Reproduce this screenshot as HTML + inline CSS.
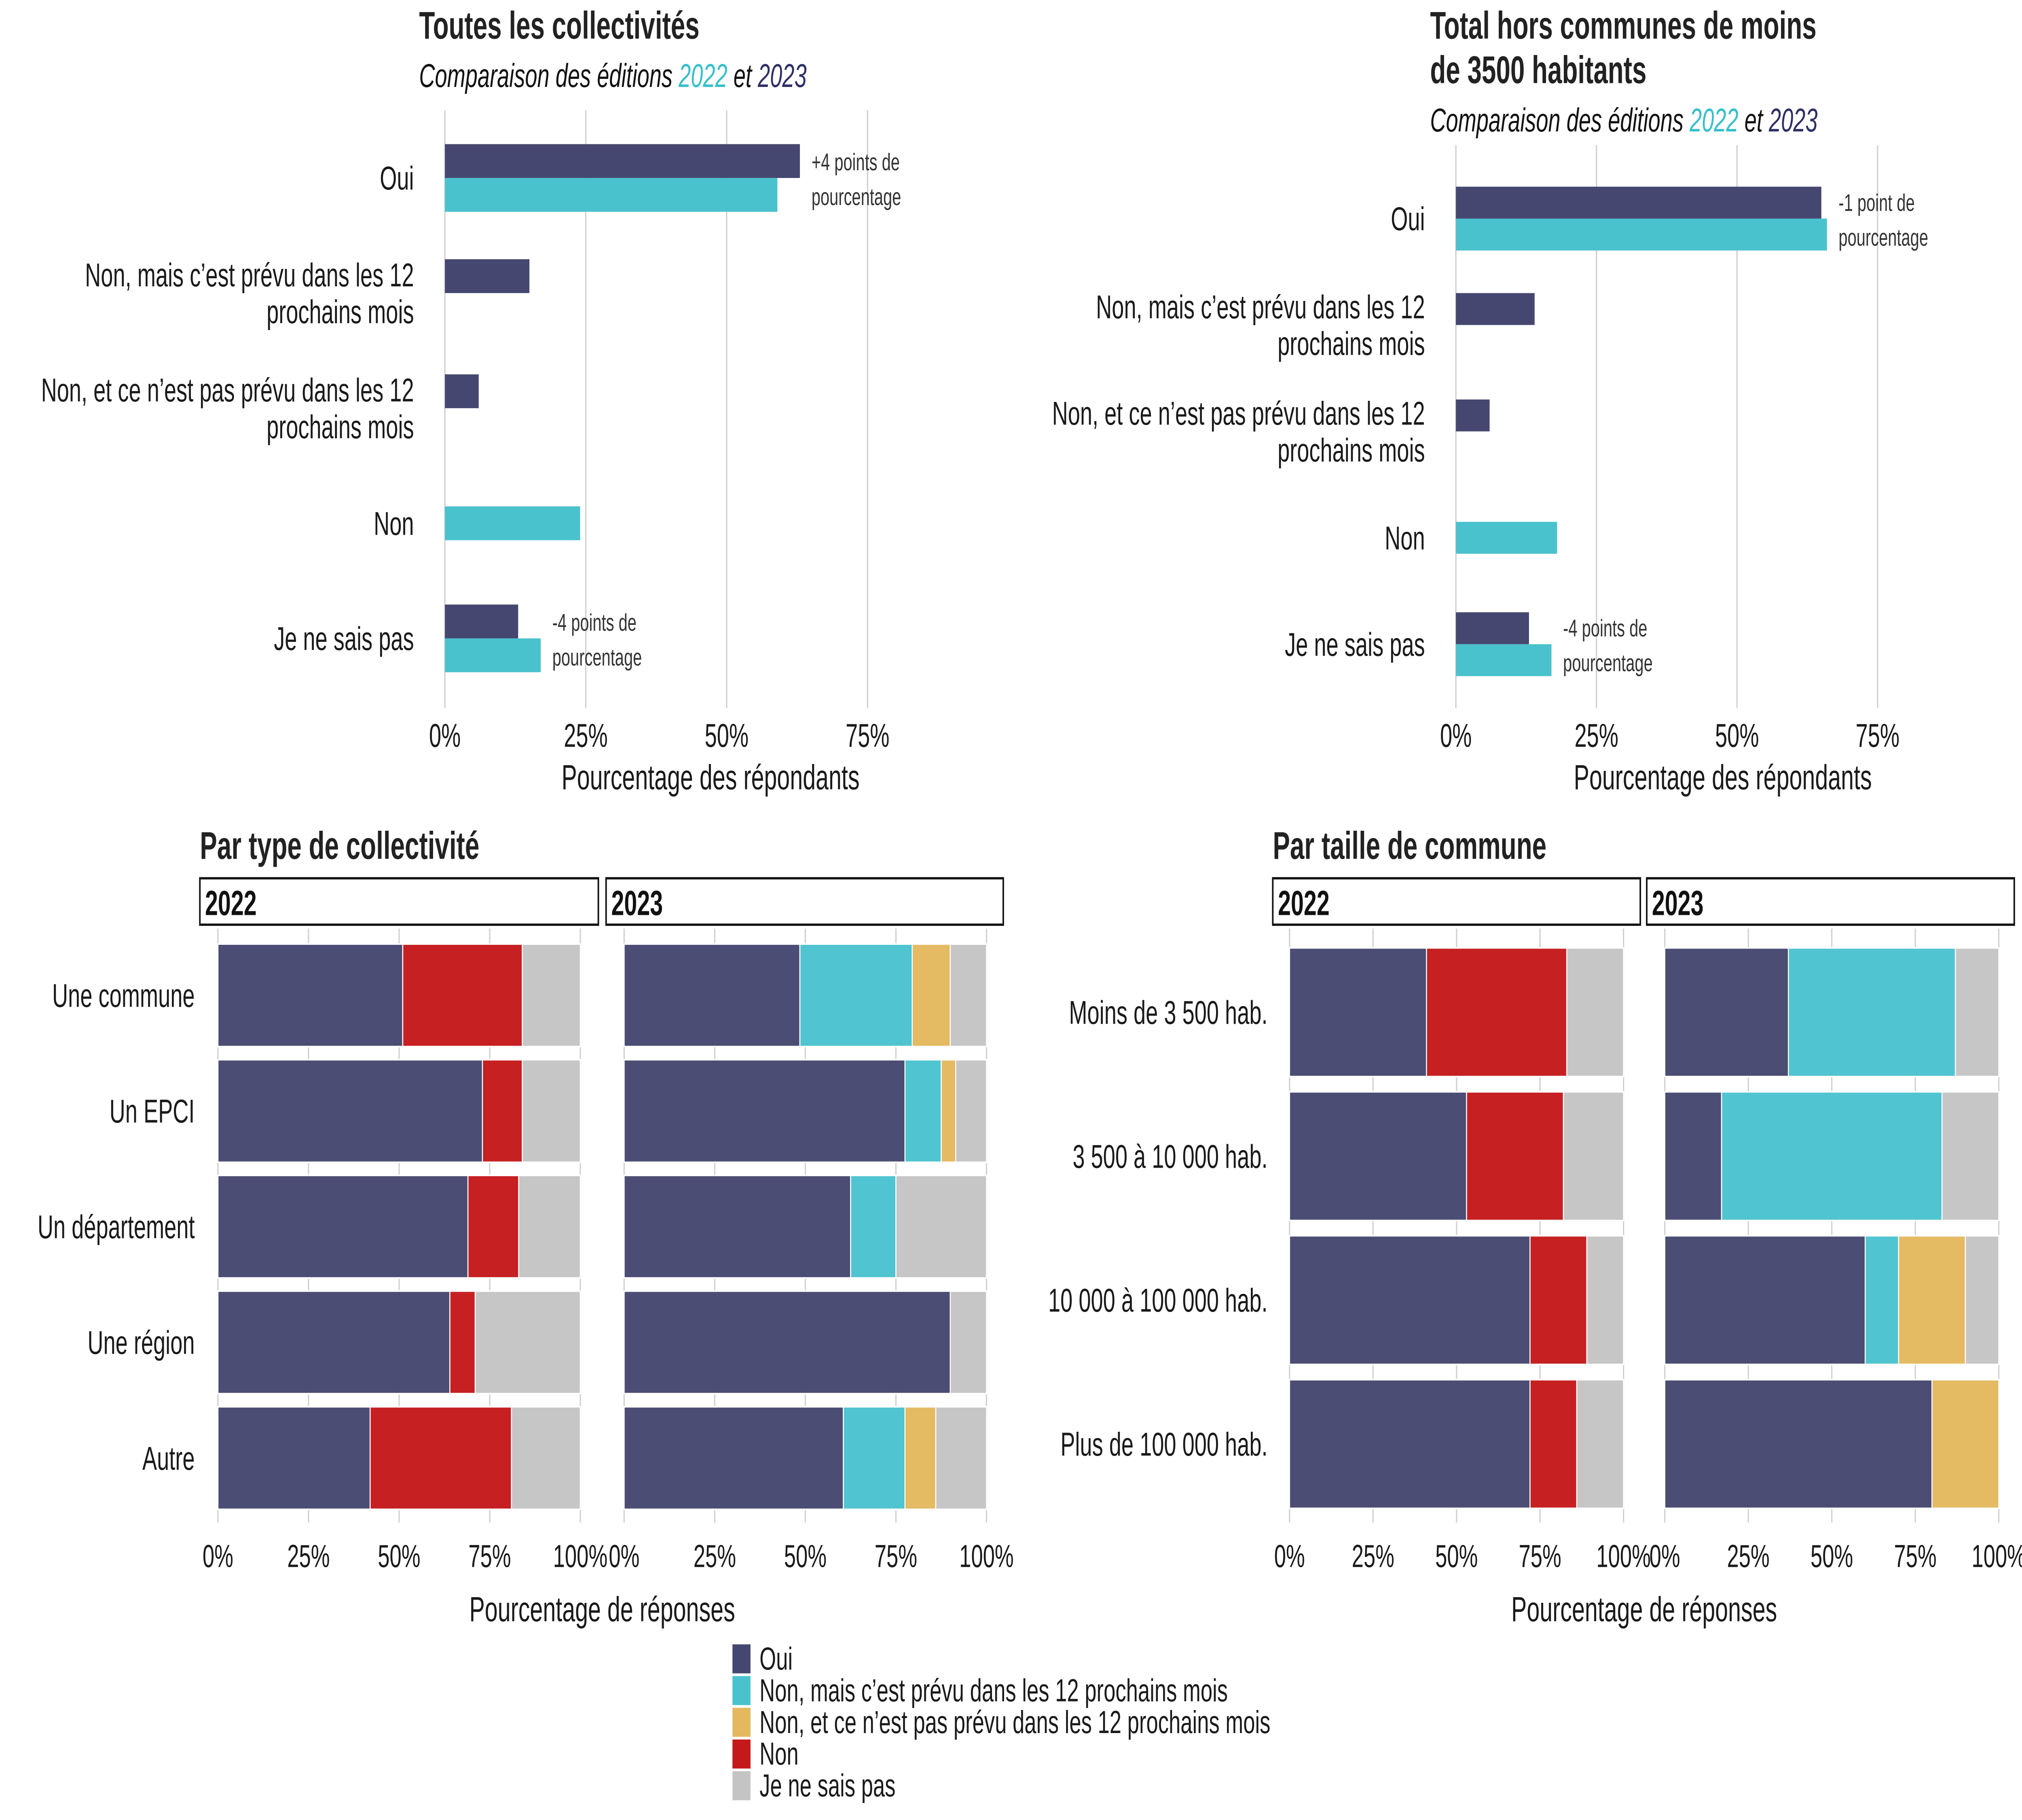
<!DOCTYPE html>
<html><head><meta charset="utf-8">
<style>
html,body{margin:0;padding:0;background:#fff;width:100%;height:100%;overflow:hidden;}
svg{display:block;font-family:"Liberation Sans",sans-serif;width:100vw;height:100vh;}
</style></head>
<body>
<svg id="chart" xmlns="http://www.w3.org/2000/svg" viewBox="0 0 1568 940.8" preserveAspectRatio="none">
<rect width="1568" height="940.8" fill="#fff"/>
<g id="root"></g>
</svg>
<script>
// ---- data ----
const colors = ["#464770","#4AC2CE","#E3B85E","#C4191B","#C4C4C4"];
const legendLabels = ["Oui","Non, mais c\u2019est prévu dans les 12 prochains mois","Non, et ce n\u2019est pas prévu dans les 12 prochains mois","Non","Je ne sais pas"];
const topCategories = [["Oui"],["Non, mais c\u2019est prévu dans les 12","prochains mois"],["Non, et ce n\u2019est pas prévu dans les 12","prochains mois"],["Non"],["Je ne sais pas"]];
const topTicks = ["0%","25%","50%","75%"];
const topTickValues = [0,25,50,75];
const tl2023 = [63,15,6,0,13];
const tl2022 = [59,0,0,24,17];
const tr2023 = [65,14,6,0,13];
const tr2022 = [66,0,0,18,17];
const tlNotes = [["+4 points de","pourcentage"],null,null,null,["-4 points de","pourcentage"]];
const trNotes = [["-1 point de","pourcentage"],null,null,null,["-4 points de","pourcentage"]];
const typeCategories = ["Une commune","Un EPCI","Un département","Une région","Autre"];
const type2022 = [[51,0,0,33,16],[73,0,0,11,16],[69,0,0,14,17],[64,0,0,7,29],[42,0,0,39,19]];
const type2023 = [[48.5,31,10.5,0,10],[77.5,10,4,0,8.5],[62.5,12.5,0,0,25],[90,0,0,0,10],[60.5,17,8.5,0,14]];
const sizeCategories = ["Moins de 3 500 hab.","3 500 à 10 000 hab.","10 000 à 100 000 hab.","Plus de 100 000 hab."];
const size2022 = [[41,0,0,42,17],[53,0,0,29,18],[72,0,0,17,11],[72,0,0,14,14]];
const size2023 = [[37,50,0,0,13],[17,66,0,0,17],[60,10,20,0,10],[80,0,20,0,0]];
const bottomTicks = ["0%","25%","50%","75%","100%"];
const bottomTickValues = [0,25,50,75,100];

const NS="http://www.w3.org/2000/svg";
const root=document.getElementById('root');
function mk(tag,attrs,parent,text){const e=document.createElementNS(NS,tag);for(const k in attrs)e.setAttribute(k,attrs[k]);if(text!==undefined)e.textContent=text;(parent||root).appendChild(e);return e;}
const TXT="#1a1a1a";

// ---- top charts ----
function topChart(cfg){
  const g=mk('g',{});
  
  
  const x=v=>cfg.x0+v*cfg.scale;
  topTickValues.forEach((v,i)=>{
    const l=mk('line',{x1:x(v),x2:x(v),y1:cfg.gy0,y2:cfg.gy1,stroke:"#cfcfcf","stroke-width":1},g);
    
    
    const t=mk('text',{x:x(v),y:cfg.tickY,"text-anchor":"middle","font-size":17,fill:TXT},g,topTicks[i]);
    
    
  });
  const yc=i=>cfg.yFirst+i*cfg.step;
  topCategories.forEach((lab,i)=>{
    const cy=yc(i);
    const n=lab.length;
    lab.forEach((ln,j)=>{
      const t=mk('text',{x:cfg.x0-24,y:cy+6+(j-(n-1)/2)*19,"text-anchor":"end","font-size":17,fill:TXT},g,ln);
      
      
    });
    const a=cfg.d23[i], b=cfg.d22[i];
    if(a>0){const r=mk('rect',{x:x(0),y:cy-cfg.bh,width:x(a)-x(0),height:cfg.bh,fill:colors[0]},g);
      
      }
    if(b>0){const r=mk('rect',{x:x(0),y:(a>0?cy:cy-cfg.bh/2),width:x(b)-x(0),height:cfg.bh,fill:colors[1]},g);
      
      }
    if(cfg.notes[i]){
      const nx=x(Math.max(a,b))+9;
      cfg.notes[i].forEach((ln,j)=>{
        const t=mk('text',{x:nx,y:cy-4+j*18,"font-size":12.5,fill:"#333"},g,ln);
        
        
      });
    }
  });
  const at=mk('text',{x:cfg.titleX,y:cfg.tickY+22,"text-anchor":"middle","font-size":18,fill:TXT},g,"Pourcentage des répondants");
  
  
  cfg.title.forEach((ln,j)=>{
    const t=mk('text',{x:cfg.tx,y:cfg.ty+j*23,"font-size":20,"font-weight":"bold",fill:"#222"},g,ln);
    
    
  });
  const st=mk('text',{x:cfg.tx,y:cfg.sy,"font-size":17,"font-style":"italic",fill:"#111"},g);
  
  
  mk('tspan',{},st,"Comparaison des éditions ");
  mk('tspan',{fill:"#36BFCB"},st,"2022");
  mk('tspan',{},st," et ");
  mk('tspan',{fill:"#2F2F66"},st,"2023");
}
topChart({name:'chart-toutes-collectivites',x0:345,scale:4.37,gy0:57,gy1:366,tickY:386,yFirst:92,step:59.5,bh:17.5,d23:tl2023,d22:tl2022,notes:tlNotes,titleX:551,title:["Toutes les collectivités"],tx:325,ty:20,sy:45});
topChart({name:'chart-hors-petites-communes',x0:1129,scale:4.36,gy0:75,gy1:366,tickY:386,yFirst:113,step:55,bh:16.5,d23:tr2023,d22:tr2022,notes:trNotes,titleX:1336,title:["Total hors communes de moins","de 3500 habitants"],tx:1109,ty:20,sy:68});

// ---- bottom facet charts ----
function facetChart(cfg){
  const g=mk('g',{});
  
  
  const tt=mk('text',{x:cfg.titleX,y:444,"font-size":20,"font-weight":"bold",fill:"#222"},g,cfg.title);
  
  
  const panels=[{d:cfg.d22,year:"2022",p:cfg.p[0]},{d:cfg.d23,year:"2023",p:cfg.p[1]}];
  panels.forEach(P=>{
    const p=P.p;
    const x=v=>p.x0+v*(p.x1-p.x0)/100;
    const s=mk('rect',{x:p.sx0,y:454,width:p.sx1-p.sx0,height:24,fill:"#fff",stroke:"#111","stroke-width":1.2},g);
    
    
    const st=mk('text',{x:p.sx0+4,y:473,"font-size":18,"font-weight":"bold",fill:"#111"},g,P.year);
    
    
    bottomTickValues.forEach((v,i)=>{
      const l=mk('line',{x1:x(v),x2:x(v),y1:480,y2:787,stroke:"#d0d0d0","stroke-width":1},g);
      
      
      const t=mk('text',{x:x(v),y:810,"text-anchor":"middle","font-size":16.5,fill:TXT},g,bottomTicks[i]);
      
      
    });
    P.d.forEach((row,i)=>{
      const y0=cfg.y0+i*cfg.step;
      let acc=0;
      row.forEach((v,k)=>{
        if(v<=0)return;
        const r=mk('rect',{x:x(acc),y:y0,width:x(acc+v)-x(acc),height:cfg.bh,fill:colors[k],"fill-opacity":0.97,stroke:"#fff","stroke-width":0.8},g);
        
        
        acc+=v;
      });
    });
  });
  cfg.cats.forEach((c,i)=>{
    const t=mk('text',{x:cfg.labelX,y:cfg.y0+i*cfg.step+cfg.bh/2+6,"text-anchor":"end","font-size":17,fill:TXT},g,c);
    
    
  });
  const at=mk('text',{x:cfg.axisX,y:838,"text-anchor":"middle","font-size":18,fill:TXT},g,"Pourcentage de réponses");
  
  
}
facetChart({name:'chart-par-type',title:"Par type de collectivité",titleX:155,cats:typeCategories,d22:type2022,d23:type2023,y0:488,step:59.8,bh:53,labelX:151,axisX:467,
  p:[{x0:169,x1:450,sx0:155,sx1:464},{x0:484,x1:765,sx0:470,sx1:778}]});
facetChart({name:'chart-par-taille',title:"Par taille de commune",titleX:987,cats:sizeCategories,d22:size2022,d23:size2023,y0:490,step:74.4,bh:66.5,labelX:983,axisX:1275,
  p:[{x0:1000,x1:1259,sx0:987,sx1:1272},{x0:1291,x1:1550,sx0:1277,sx1:1562}]});

// ---- legend ----
const lg=mk('g',{});


legendLabels.forEach((lab,i)=>{
  const y=850+i*16.4;
  const r=mk('rect',{x:568,y:y,width:14,height:15,fill:colors[i]},lg);
  
  
  const t=mk('text',{x:589,y:y+13,"font-size":16.5,fill:TXT},lg,lab);
  
  
});
</script>
</body></html>
